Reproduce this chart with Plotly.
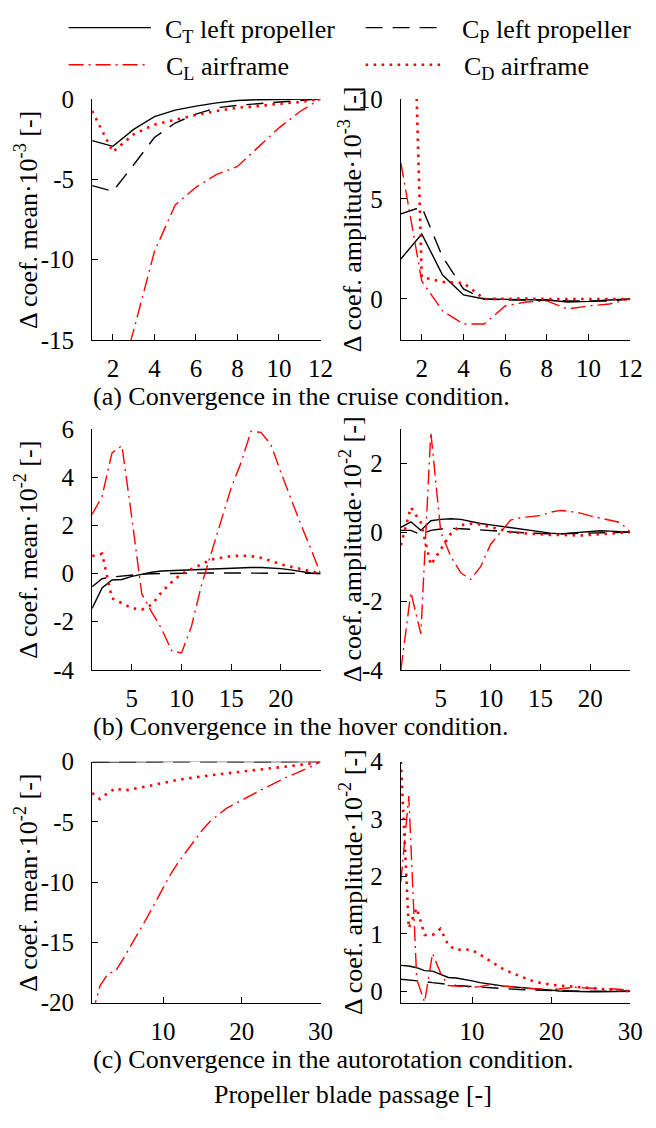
import plotly.graph_objects as go

FONT = "Liberation Serif"
W, H = 656, 1128

# ---------------- data ----------------
# (a) cruise, x = 1..12 (values x 1e-3)
x_a = list(range(1, 13))
a_mean_ct = [-2.6, -2.95, -1.9, -1.1, -0.7, -0.45, -0.25, -0.1, -0.05, -0.02, -0.01, 0]
a_mean_cp = [-5.4, -5.75, -4.1, -2.4, -1.5, -0.95, -0.55, -0.4, -0.3, -0.2, -0.1, 0]
a_mean_cl = [-25, -19, -14.4, -9.5, -6.6, -5.5, -4.7, -4.2, -3.0, -1.8, -0.8, 0]
a_mean_cd = [-0.75, -3.3, -2.2, -1.6, -1.3, -1.0, -0.75, -0.55, -0.45, -0.3, -0.2, 0]

a_amp_ct = [2.0, 3.25, 1.2, 0.2, 0.0, -0.02, -0.05, -0.05, -0.15, -0.12, -0.05, 0]
a_amp_cp = [4.25, 4.6, 2.1, 0.5, 0.0, -0.05, -0.05, -0.05, -0.1, -0.1, -0.1, 0]
a_amp_cl = [6.8, 0.9, -0.6, -1.25, -1.25, -0.35, -0.15, -0.1, -0.5, -0.35, -0.25, 0]
a_amp_cd = [38, 1.1, 0.85, 0.8, 0.0, 0.02, 0.02, 0.0, 0.0, 0.0, 0.0, 0]

# (b) hover, x = 1..24 (values x 1e-2)
x_b = list(range(1, 25))
b_mean_ct = [-1.45, -0.6, -0.27, -0.25, -0.12, -0.03, 0.05, 0.1, 0.12, 0.14, 0.16, 0.18,
             0.2, 0.21, 0.23, 0.24, 0.25, 0.25, 0.23, 0.2, 0.15, 0.08, 0.02, 0]
b_mean_cp = [-0.55, -0.22, -0.15, -0.1, -0.06, -0.03, -0.01, 0.0, 0.0, 0.01, 0.02, 0.02,
             0.02, 0.02, 0.02, 0.02, 0.02, 0.02, 0.02, 0.02, 0.01, 0.01, 0.0, 0]
b_mean_cl = [2.45, 3.2, 5.0, 5.3, 2.3, -0.85, -1.6, -2.3, -3.2, -3.3, -2.2, -0.5,
             0.85, 2.2, 3.55, 4.6, 5.9, 5.85, 5.35, 4.2, 3.1, 2.05, 1.05, 0]
b_mean_cd = [0.72, 0.82, -1.03, -1.24, -1.44, -1.5, -1.3, -0.77, -0.36, -0.02, 0.18, 0.38,
             0.58, 0.65, 0.72, 0.74, 0.72, 0.65, 0.51, 0.38, 0.28, 0.18, 0.07, 0]

b_amp_ct = [0.14, 0.3, 0.05, 0.33, 0.37, 0.39, 0.37, 0.3, 0.25, 0.21, 0.17, 0.12,
            0.08, 0.03, -0.01, -0.03, -0.05, -0.03, 0.0, 0.03, 0.04, 0.03, 0.01, 0]
b_amp_cp = [0.05, 0.05, -0.07, 0.05, 0.09, 0.11, 0.1, 0.08, 0.06, 0.04, 0.01, -0.01,
            -0.02, -0.03, -0.04, -0.05, -0.05, -0.04, -0.03, -0.02, -0.01, 0.0, 0.0, 0]
b_amp_cl = [-4.0, -1.75, -2.95, 2.9, 0.0, -0.7, -1.18, -1.37, -1.0, -0.35, 0.0, 0.35,
            0.42, 0.46, 0.48, 0.58, 0.63, 0.6, 0.55, 0.47, 0.4, 0.35, 0.28, 0]
b_amp_cd = [-0.38, 0.72, 0.28, -0.95, -0.5, -0.05, 0.2, 0.25, 0.22, 0.15, 0.08, 0.0,
            -0.03, -0.05, -0.07, -0.08, -0.08, -0.09, -0.1, -0.08, -0.06, -0.04, -0.02, 0]

# (c) autorotation, x = 1..30 (values x 1e-2)
x_c = list(range(1, 31))
c_mean_ct = [-0.04, -0.03, -0.02, -0.02, -0.01, -0.01, 0.0, 0.0, 0.01, 0.01, 0.01, 0.02,
             0.02, 0.02, 0.02, 0.03, 0.03, 0.03, 0.03, 0.03, 0.02, 0.02, 0.02, 0.02,
             0.01, 0.01, 0.01, 0.0, 0.0, 0]
c_mean_cp = [-0.02, -0.02, -0.01, -0.01, -0.01, 0.0, 0.0, 0.0, 0.0, 0.0, 0.01, 0.01,
             0.01, 0.01, 0.01, 0.01, 0.01, 0.01, 0.01, 0.01, 0.01, 0.01, 0.01, 0.0,
             0.0, 0.0, 0.0, 0.0, 0.0, 0]
c_mean_cl = [-21.0, -18.6, -17.6, -17.35, -16.3, -15.2, -14.1, -12.9, -11.7, -10.5, -9.3, -8.3,
             -7.4, -6.5, -5.67, -4.94, -4.4, -3.9, -3.54, -3.18, -2.83, -2.5, -2.16, -1.84,
             -1.5, -1.2, -0.94, -0.67, -0.35, 0]
c_mean_cd = [-2.6, -3.1, -2.6, -2.2, -2.4, -2.3, -2.2, -2.05, -1.9, -1.75, -1.62, -1.5,
             -1.4, -1.3, -1.2, -1.12, -1.05, -0.98, -0.9, -0.82, -0.75, -0.68, -0.6, -0.5,
             -0.42, -0.35, -0.28, -0.2, -0.15, 0]

c_amp_ct = [0.45, 0.44, 0.41, 0.36, 0.35, 0.3, 0.24, 0.23, 0.21, 0.18, 0.15, 0.125,
            0.11, 0.09, 0.08, 0.07, 0.06, 0.045, 0.035, 0.02, 0.005, 0.0, -0.01, -0.01,
            -0.01, -0.01, -0.01, -0.01, -0.005, 0]
c_amp_cp = [0.21, 0.2, 0.19, 0.17, 0.15, 0.14, 0.12, 0.1, 0.09, 0.08, 0.07, 0.06,
            0.05, 0.04, 0.035, 0.03, 0.025, 0.02, 0.015, 0.01, 0.01, 0.005, 0.005, 0.0,
            0.0, 0.0, 0.0, 0.0, 0.0, 0]
c_amp_cl = [1.91, 3.4, 0.21, -0.19, 0.66, 0.32, 0.1, 0.09, 0.07, 0.07, 0.08, 0.11,
            0.1, 0.09, 0.09, 0.07, 0.05, 0.04, 0.04, 0.03, 0.04, 0.05, 0.07, 0.06,
            0.05, 0.05, 0.04, 0.04, 0.03, 0]
c_amp_cd = [4.0, 1.1, 1.45, 0.98, 0.98, 1.09, 0.8, 0.72, 0.73, 0.72, 0.64, 0.55,
            0.47, 0.38, 0.32, 0.27, 0.21, 0.16, 0.14, 0.11, 0.1, 0.09, 0.07, 0.06,
            0.05, 0.04, 0.03, 0.03, 0.02, 0]

# tick values / labels
a_xticks = [2, 4, 6, 8, 10, 12]
b_xticks = [5, 10, 15, 20]
c_xticks = [10, 20, 30]
a_mean_yticks = [-15, -10, -5, 0]
a_amp_yticks = [0, 5, 10]
b_mean_yticks = [-4, -2, 0, 2, 4, 6]
b_amp_yticks = [-4, -2, 0, 2]
c_mean_yticks = [-20, -15, -10, -5, 0]
c_amp_yticks = [0, 1, 2, 3, 4]

series_names = ["C<sub>T</sub> left propeller", "C<sub>P</sub> left propeller",
                "C<sub>L</sub> airframe", "C<sub>D</sub> airframe"]
captions = ["(a) Convergence in the cruise condition.",
            "(b) Convergence in the hover condition.",
            "(c) Convergence in the autorotation condition."]
xlabel = "Propeller blade passage [-]"

# ---------------- styles ----------------
STYLES = [
    dict(color="black", width=1.4, dash="solid"),
    dict(color="black", width=1.4, dash="17px,10px"),
    dict(color="red", width=1.4, dash="15px,5px,2px,5px"),
    dict(color="red", width=2.6, dash="2.5px,5.5px"),
]

def px_x(p):
    return p / W

def px_y(p):
    return 1 - p / H

# subplot geometry (window pixels)
cols = [(94, 327), (409, 643)]
rows = [(88, 335), (426, 673), (767, 1014)]

panels = [
    (0, 0, x_a, [a_mean_ct, a_mean_cp, a_mean_cl, a_mean_cd], [1, 12], [-15, 0], a_xticks, a_mean_yticks, "-3", "mean"),
    (0, 1, x_a, [a_amp_ct, a_amp_cp, a_amp_cl, a_amp_cd], [1, 12], [-2.05, 10], a_xticks, a_amp_yticks, "-3", "amplitude"),
    (1, 0, x_b, [b_mean_ct, b_mean_cp, b_mean_cl, b_mean_cd], [1, 24], [-4, 6], b_xticks, b_mean_yticks, "-2", "mean"),
    (1, 1, x_b, [b_amp_ct, b_amp_cp, b_amp_cl, b_amp_cd], [1, 24], [-4, 3], b_xticks, b_amp_yticks, "-2", "amplitude"),
    (2, 0, x_c, [c_mean_ct, c_mean_cp, c_mean_cl, c_mean_cd], [1, 30], [-20, 0], c_xticks, c_mean_yticks, "-2", "mean"),
    (2, 1, x_c, [c_amp_ct, c_amp_cp, c_amp_cl, c_amp_cd], [1, 30], [-0.2, 4], c_xticks, c_amp_yticks, "-2", "amplitude"),
]

def lab(v):
    return str(v) if v >= 0 else "-" + str(-v)

fig = go.Figure()
layout = dict(
    width=W, height=H,
    margin=dict(l=0, r=0, t=0, b=0),
    paper_bgcolor="white", plot_bgcolor="white",
    showlegend=False,
    font=dict(family=FONT, size=25, color="black"),
)
annotations = []
shapes = []

for i, (r, c, xs, ser, xr, yr, xt, yt, ex, kind) in enumerate(panels):
    n = i + 1
    xa = "x" if n == 1 else f"x{n}"
    ya = "y" if n == 1 else f"y{n}"
    xkey = "xaxis" if n == 1 else f"xaxis{n}"
    ykey = "yaxis" if n == 1 else f"yaxis{n}"
    for k, s in enumerate(ser):
        st = STYLES[k]
        fig.add_trace(go.Scatter(
            x=xs, y=s, mode="lines", name=series_names[k],
            line=dict(color=st["color"], width=st["width"], dash=st["dash"]),
            xaxis=xa, yaxis=ya, hoverinfo="skip"))
    x0, x1 = cols[c]
    y0, y1 = rows[r]
    common = dict(showgrid=False, zeroline=False, showline=True, linecolor="black",
                  linewidth=1.3, ticks="inside", ticklen=6, tickwidth=1.2,
                  tickcolor="black", tickfont=dict(family=FONT, size=25, color="black"),
                  fixedrange=True)
    layout[xkey] = dict(domain=[px_x(x0), px_x(x1)], range=xr, anchor=ya,
                        tickvals=xt, ticktext=[lab(v) for v in xt],
                        ticklabelstandoff=6, **common)
    layout[ykey] = dict(domain=[px_y(y1), px_y(y0)], range=yr, anchor=xa,
                        tickvals=yt, ticktext=[lab(v) for v in yt],
                        ticklabelstandoff=12, **common)
    tx = 27 if c == 0 else 358
    annotations.append(dict(
        text=f"Δ coef. {kind}·10<sup>{ex}</sup> [-]",
        x=px_x(tx), y=px_y((y0 + y1) / 2), xref="paper", yref="paper",
        xanchor="center", yanchor="middle", textangle=-90, showarrow=False,
        font=dict(family=FONT, size=26, color="black")))

for r, cap in enumerate(captions):
    annotations.append(dict(
        text=cap, x=px_x(93), y=px_y(rows[r][1] + 58), xref="paper", yref="paper",
        xanchor="left", yanchor="middle", showarrow=False,
        font=dict(family=FONT, size=26, color="black")))

annotations.append(dict(
    text=xlabel, x=px_x(360), y=px_y(1108), xref="paper", yref="paper",
    xanchor="center", yanchor="middle", showarrow=False,
    font=dict(family=FONT, size=26, color="black")))

leg = [(70, 154, 166, 15), (373, 454, 469, 15), (70, 150, 167, 53), (373, 454, 471, 53)]
for k, (lx0, lx1, tx, ty) in enumerate(leg):
    st = STYLES[k]
    shapes.append(dict(type="line", xref="paper", yref="paper",
                       x0=px_x(lx0), x1=px_x(lx1), y0=px_y(ty), y1=px_y(ty),
                       line=dict(color=st["color"], width=st["width"], dash=st["dash"])))
    annotations.append(dict(
        text=series_names[k], x=px_x(tx), y=px_y(ty + 3), xref="paper", yref="paper",
        xanchor="left", yanchor="middle", showarrow=False,
        font=dict(family=FONT, size=26, color="black")))

layout["annotations"] = annotations
layout["shapes"] = shapes
fig.update_layout(**layout)
fig.write_html("out.html", config={"displayModeBar": False},
               post_script="document.body.style.margin='0px';document.body.style.overflow='hidden';")
